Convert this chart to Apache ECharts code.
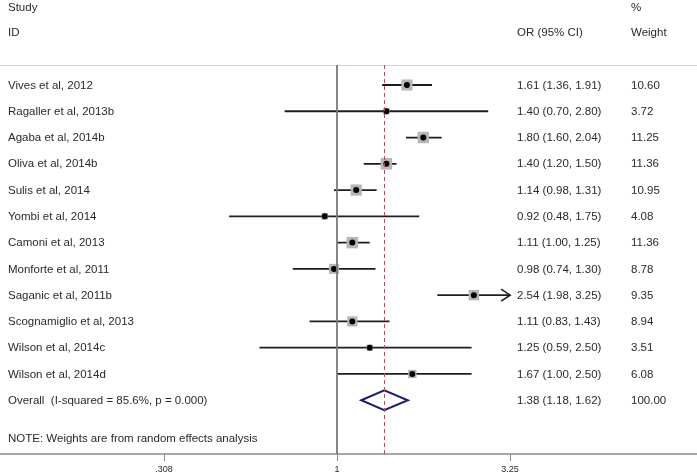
<!DOCTYPE html>
<html>
<head>
<meta charset="utf-8">
<script src="https://cdn.jsdelivr.net/npm/echarts@6/dist/echarts.min.js"></script>
<style>html,body{margin:0;padding:0;background:#fff}#chart{width:697px;height:476px}</style>
</head>
<body>
<div id="chart"></div>
<script>
// ---- data ----
const studies = ['Vives et al, 2012','Ragaller et al, 2013b','Agaba et al, 2014b','Oliva et al, 2014b','Sulis et al, 2014','Yombi et al, 2014','Camoni et al, 2013','Monforte et al, 2011','Saganic et al, 2011b','Scognamiglio et al, 2013','Wilson et al, 2014c','Wilson et al, 2014d'];
const orValues = [1.61,1.40,1.80,1.40,1.14,0.92,1.11,0.98,2.54,1.11,1.25,1.67];
const ciLower  = [1.36,0.70,1.60,1.20,0.98,0.48,1.00,0.74,1.98,0.83,0.59,1.00];
const ciUpper  = [1.91,2.80,2.04,1.50,1.31,1.75,1.25,1.30,3.25,1.43,2.50,2.50];
const weights  = [10.60,3.72,11.25,11.36,10.95,4.08,11.36,8.78,9.35,8.94,3.51,6.08];
const overallLabel = ['Overall  (I-squared = 85.6%, p = 0.000)'];
const overallOR = [1.38];
const overallLower = [1.18];
const overallUpper = [1.62];
const overallWeight = [100.00];
const tickValues = [0.308, 1, 3.25];
const tickLabels = ['.308', '1', '3.25'];
const noteText = 'NOTE: Weights are from random effects analysis';

// ---- layout/style ----
const FONT = 'Liberation Sans, Arial, sans-serif';
const FS = '11.5px ';
const TXT = '#2a2a2a';
const plotLimit = tickValues[tickValues.length - 1];
const ln = Math.log;
const xMinLn = -2.294, xMaxLn = 2.451;

const rowData = studies.map((s, i) => [i, orValues[i], ciLower[i], ciUpper[i], weights[i]]);
const ovIdx = studies.length;
const ovData = [[ovIdx, overallOR[0], overallLower[0], overallUpper[0], overallWeight[0]]];

function fmt(v){ return v.toFixed(2); }

const chart = echarts.init(document.getElementById('chart'), null, {renderer: 'canvas'});
chart.setOption({
  animation: false,
  grid: {left: 0, right: 0, top: 65, bottom: 22},
  xAxis: [{
    type: 'value', min: xMinLn, max: xMaxLn, position: 'bottom',
    splitLine: {show: false},
    axisLine: {show: true, onZero: false, lineStyle: {color: '#8a8a8a', width: 1.5}},
    axisTick: {show: true, customValues: tickValues.map(ln), length: 7, lineStyle: {color: '#8a8a8a', width: 1}},
    axisLabel: {show: true, customValues: tickValues.map(ln), margin: 11, fontSize: 9, color: TXT, fontFamily: FONT,
      formatter: function(v){ let b = 0; tickValues.forEach((t, k) => { if (Math.abs(ln(t) - v) < Math.abs(ln(tickValues[b]) - v)) b = k; }); return tickLabels[b]; }}
  }, {
    type: 'value', min: xMinLn, max: xMaxLn, position: 'top',
    splitLine: {show: false}, axisTick: {show: false}, axisLabel: {show: false},
    axisLine: {show: true, onZero: false, lineStyle: {color: '#d4d4d4', width: 1}}
  }],
  yAxis: {type: 'value', inverse: true, min: -0.761, max: 14.047, show: false},
  graphic: [
    {type: 'text', left: 8, top: 2, style: {text: 'Study', font: FS + FONT, fill: TXT}},
    {type: 'text', left: 8, top: 27, style: {text: 'ID', font: FS + FONT, fill: TXT}},
    {type: 'text', left: 631, top: 2, style: {text: '%', font: FS + FONT, fill: TXT}},
    {type: 'text', left: 517, top: 27, style: {text: 'OR (95% CI)', font: FS + FONT, fill: TXT}},
    {type: 'text', left: 631, top: 27, style: {text: 'Weight', font: FS + FONT, fill: TXT}},
    {type: 'text', left: 8, top: 433, style: {text: noteText, font: FS + FONT, fill: TXT}}
  ],
  series: [{
    type: 'custom',
    coordinateSystem: 'cartesian2d',
    data: rowData,
    clip: false,
    renderItem: function(params, api){
      const i = api.value(0), orv = api.value(1), lo = api.value(2), hi = api.value(3), w = api.value(4);
      const c = api.coord([ln(orv), i]);
      const pl = api.coord([ln(lo), i]);
      const ph = api.coord([ln(Math.min(hi, plotLimit)), i]);
      const side = 3.4 * Math.sqrt(w);
      const ch = [
        {type: 'line', shape: {x1: pl[0], y1: pl[1], x2: ph[0], y2: ph[1]}, style: {stroke: '#1e1e1e', lineWidth: 1.8}},
        {type: 'rect', shape: {x: c[0] - side/2, y: c[1] - side/2, width: side, height: side}, style: {fill: '#b6b6b6'}},
        {type: 'circle', shape: {cx: c[0], cy: c[1], r: 3}, style: {fill: '#000'}},
        {type: 'text', x: 8, y: c[1] + 0.5, style: {text: studies[i], font: FS + FONT, fill: TXT, verticalAlign: 'middle'}},
        {type: 'text', x: 517, y: c[1] + 0.5, style: {text: fmt(orv) + ' (' + fmt(lo) + ', ' + fmt(hi) + ')', font: FS + FONT, fill: TXT, verticalAlign: 'middle'}},
        {type: 'text', x: 631, y: c[1] + 0.5, style: {text: fmt(w), font: FS + FONT, fill: TXT, verticalAlign: 'middle'}}
      ];
      if (hi >= plotLimit) {
        ch.push({type: 'polyline', shape: {points: [[ph[0] - 9, ph[1] - 6], [ph[0], ph[1]], [ph[0] - 9, ph[1] + 6]]}, style: {stroke: '#1e1e1e', lineWidth: 1.6, fill: null}});
      }
      return {type: 'group', children: ch};
    },
    markLine: {
      silent: true, symbol: 'none', label: {show: false},
      data: [
        {xAxis: 0, lineStyle: {color: '#7a7a7a', width: 1.8, type: 'solid'}},
        {xAxis: ln(overallOR[0]), lineStyle: {color: '#b0505a', width: 1, type: [4, 3]}}
      ]
    }
  }, {
    type: 'custom',
    coordinateSystem: 'cartesian2d',
    data: ovData,
    clip: false,
    z: 3,
    renderItem: function(params, api){
      const i = api.value(0), orv = api.value(1), lo = api.value(2), hi = api.value(3), w = api.value(4);
      const c = api.coord([ln(orv), i]);
      const pl = api.coord([ln(lo), i]);
      const ph = api.coord([ln(hi), i]);
      const hh = 10;
      return {type: 'group', children: [
        {type: 'polygon', shape: {points: [[pl[0], c[1]], [c[0], c[1] - hh], [ph[0], c[1]], [c[0], c[1] + hh]]}, style: {fill: '#fff', stroke: '#1c1c78', lineWidth: 2}},
        {type: 'text', x: 8, y: c[1] + 0.5, style: {text: overallLabel[0], font: FS + FONT, fill: TXT, verticalAlign: 'middle'}},
        {type: 'text', x: 517, y: c[1] + 0.5, style: {text: fmt(orv) + ' (' + fmt(lo) + ', ' + fmt(hi) + ')', font: FS + FONT, fill: TXT, verticalAlign: 'middle'}},
        {type: 'text', x: 631, y: c[1] + 0.5, style: {text: fmt(w), font: FS + FONT, fill: TXT, verticalAlign: 'middle'}}
      ]};
    }
  }]
});
</script>
</body>
</html>
